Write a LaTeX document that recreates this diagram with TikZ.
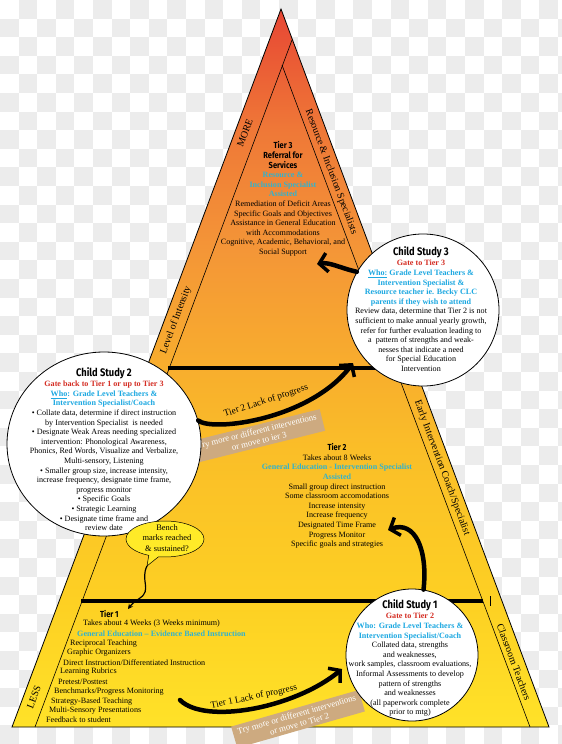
\documentclass[tikz,border=0pt]{standalone}
\usepackage{fontspec}
\setmainfont{Liberation Serif}
\newfontfamily\headfont{Fira Sans}[FakeStretch=0.85]
\usetikzlibrary{shapes.geometric,shapes.callouts,arrows.meta}

\definecolor{checkgray}{RGB}{236,236,236}
\definecolor{pyrbot}{RGB}{255,226,40}
\definecolor{pyrlow}{RGB}{253,208,35}
\definecolor{pyrmid}{RGB}{250,190,40}
\definecolor{pyrband}{RGB}{248,174,45}
\definecolor{pyrup}{RGB}{244,150,55}
\definecolor{pyrhigh}{RGB}{239,120,55}
\definecolor{pyrtop}{RGB}{231,70,52}
\definecolor{tiercyan}{RGB}{50,178,205}
\definecolor{whocyan}{RGB}{28,168,225}
\definecolor{gatered}{RGB}{212,45,35}
\definecolor{tanfill}{RGB}{205,170,128}
\definecolor{benchyellow}{RGB}{255,234,40}

% vertical fade of the pyramid, red at the top to yellow at the base
\pgfdeclareverticalshading{pyramidfade}{100bp}{color(0bp)=(pyrbot); color(25bp)=(pyrbot);
  color(33.8bp)=(pyrlow); color(44.3bp)=(pyrmid); color(49.9bp)=(pyrband);
  color(58.2bp)=(pyrup); color(66.6bp)=(pyrhigh); color(75bp)=(pyrtop); color(100bp)=(pyrtop)}

\newcommand\tierhd{\headfont\bfseries\fontsize{8.8}{9.6}\selectfont}
\newcommand\tiercyanbf{\bfseries\color{tiercyan}}
\newcommand\cscyan{\bfseries\color{whocyan}}
\newcommand\gatefont{\bfseries\color{gatered}}
\newcommand\csttl{\headfont\bfseries\fontsize{11}{12}\selectfont}

\tikzset{
  body/.style={font=\fontsize{8.1}{9.6}\selectfont, align=center, inner sep=0pt},
  bandtext/.style={font=\fontsize{10}{11}\selectfont, inner sep=0pt},
  arrowlabel/.style={font=\fontsize{9.4}{10}\selectfont, inner sep=0pt},
  csbubble/.style={draw=black, line width=0.8pt, fill=white, inner sep=0pt},
  tanbox/.style={fill=tanfill, text=white, font=\fontsize{8.8}{10}\selectfont, align=center, inner xsep=5pt, inner ysep=3pt},
  bigarrow/.style={line width=4.5pt, line cap=round, -{Straight Barb[length=8pt,width=19pt,line width=3.5pt]}},
  tierline/.style={line width=3.5pt}
}

\begin{document}
\begin{tikzpicture}[x=1pt, y=-1pt]
\useasboundingbox (0,0) rectangle (562,744);

% transparent background squares
\foreach \i in {0,...,30}
  \foreach \j in {0,...,39} {
    \ifodd\numexpr\i+\j\relax
      \fill[checkgray] (\i*18.6,\j*18.6) rectangle ++(18.6,18.6);
    \fi
  }

% ==================== pyramid ====================
\coordinate (apex) at (281,9);
\coordinate (bl) at (12,727);
\coordinate (br) at (549,727);
\coordinate (ilt) at (292,40);
\coordinate (ilb) at (35,727);
\coordinate (irt) at (282,65);
\coordinate (irb) at (530,727);

\shadedraw[shading=pyramidfade, line width=0.8pt] (apex) -- (br) -- (bl) -- cycle;
\draw[line width=0.6pt] (ilt) -- (ilb);
\draw[line width=0.6pt] (irt) -- (irb);

% tier borders
\coordinate (tthreel) at (168,368);
\coordinate (tthreer) at (396,368);
\coordinate (ttwol) at (81,601);
\coordinate (ttwor) at (483,601);
\draw[tierline] (tthreel) -- (tthreer);
\draw[tierline] (ttwol) -- (ttwor);
\draw[line width=0.6pt] (tthreer) -- (415,368);
\draw[line width=0.6pt] (490,596) -- (490,606);

% band labels
\node[bandtext, rotate=69.5] (more) at (245,133) {MORE};
\node[bandtext, rotate=69.5] (intensity) at (176,320) {Level of Intensity};
\node[bandtext, rotate=69.5] (less) at (34,697) {LESS};
\node[bandtext, rotate=-69.5] (resource) at (331,172) {Resource \& Inclusion Specialists};
\node[bandtext, rotate=-69.5] (early) at (442,468) {Early Intervention Coach/Specialist};
\node[bandtext, rotate=-69.5] (classroom) at (514,662) {Classroom Teachers};

% ==================== tier texts ====================
\node[body] (tierthree) at (283,199) {{\tierhd Tier 3}\\{\tierhd Referral for}\\{\tierhd Services}\\
  {\tiercyanbf Resource \&}\\{\tiercyanbf Inclusion Specialist}\\{\tiercyanbf Assisted}\\
  Remediation of Deficit Areas\\Specific Goals and Objectives\\Assistance in General Education\\
  with Accommodations\\Cognitive, Academic, Behavioral, and\\Social Support};

\node[body] (tiertwo) at (337,496) {{\tierhd Tier 2}\\Takes about 8 Weeks\\
  {\tiercyanbf General Education - Intervention Specialist}\\{\tiercyanbf Assisted}\\
  Small group direct instruction\\Some classroom accomodations\\Increase intensity\\
  Increase frequency\\Designated Time Frame\\Progress Monitor\\Specific goals and strategies};

\foreach \lx/\ly/\ltext [count=\i] in {
    100/614/{\tierhd Tier 1},
    83/624/{Takes about 4 Weeks (3 Weeks minimum)},
    77/634/{\tiercyanbf General Education -- Evidence Based Instruction},
    70/644/{Reciprocal Teaching},
    67/653/{Graphic Organizers},
    63/663/{Direct Instruction/Differentiated Instruction},
    60/672/{Learning Rubrics},
    58/682/{Pretest/Posttest},
    54/692/{Benchmarks/Progress Monitoring},
    51/702/{Strategy-Based Teaching},
    49/711/{Multi-Sensory Presentations},
    46/720/{Feedback to student}}
  \node[body, anchor=west] (tone-\i) at (\lx,\ly) {\ltext};

% ==================== arrows ====================
\node[tanbox, rotate=14] (ttwotry) at (258,436) {Try more or different interventions\\or move to ier 3};
\node[tanbox, rotate=16] (tonetry) at (298,719) {Try more or different interventions\\or move to Tier 2};
\node[arrowlabel, rotate=18] (ttwolack) at (266,401) {Tier 2 Lack of progress};
\node[arrowlabel, rotate=12] (tonelack) at (254,697) {Tier 1 Lack of progress};

\coordinate (tonestart) at (180,700);
\coordinate (tonetip) at (342,669);
\coordinate (ttwotip) at (353,363);
\coordinate (tthreetip) at (317,264);
\coordinate (ttwoback) at (388,530);
\coordinate (benchtip) at (147,566);
\coordinate (benchend) at (128,609);

\draw[bigarrow] (tonestart) .. controls (205,725) and (295,708) .. (tonetip);

% ==================== child study bubbles ====================
\node[csbubble, ellipse, minimum width=194pt, minimum height=184pt] (cs2) at (104,444) {};
\node[csbubble, circle, minimum size=152pt] (cs3) at (423,310) {};
\node[csbubble, circle, minimum size=132pt] (cs1) at (412,655) {};

\draw[bigarrow] (cs2.14) .. controls (212,432) and (310,420) .. (ttwotip);
\draw[bigarrow] (cs3.150) .. controls (340,268) and (330,262) .. (tthreetip);
\draw[bigarrow] (cs1.80) .. controls (428,550) and (415,520) .. (ttwoback);

\node[body] (cs3text) at (421,309) {{\csttl Child Study 3}\\[1pt]{\gatefont Gate to Tier 3}\\
  {\cscyan \underline{Who:} Grade Level Teachers \&}\\{\cscyan Intervention Specialist \&}\\
  {\cscyan Resource teacher ie. Becky CLC}\\{\cscyan parents if they wish to attend}\\
  Review data, determine that Tier 2 is not\\sufficient to make annual yearly growth,\\
  refer for further evaluation leading to\\a\ \ pattern of strengths and weak-\\
  nesses that indicate a need\\for Special Education\\Intervention};

\node[body] (cs2text) at (104,449) {{\csttl Child Study 2}\\[1pt]{\gatefont Gate back to Tier 1 or up to Tier 3}\\
  {\cscyan \underline{Who}: Grade Level Teachers \&}\\{\cscyan Intervention Specialist/Coach}\\
  \textbullet{} Collate data, determine if direct instruction\\by Intervention Specialist\ \ is needed\\
  \textbullet{} Designate Weak Areas needing specialized\\intervention: Phonological Awareness,\\
  Phonics, Red Words, Visualize and Verbalize,\\Multi-sensory, Listening\\
  \textbullet{} Smaller group size, increase intensity,\\increase frequency, designate time frame,\\
  progress monitor\\\textbullet{} Specific Goals\\\textbullet{} Strategic Learning\\
  \textbullet{} Designate time frame and\\review date};

\node[body] (cs1text) at (410,658) {{\csttl Child Study 1}\\[1pt]{\gatefont Gate to Tier 2}\\
  {\cscyan Who: Grade Level Teachers \&}\\{\cscyan Intervention Specialist/Coach}\\
  Collated data, strengths\\and weaknesses,\\work samples, classroom evaluations,\\
  Informal Assessments to develop\\pattern of strengths\\and weaknesses\\
  (all paperwork complete\\prior to mtg)};

% bench marks question
\node[ellipse callout, draw=black, line width=0.5pt, fill=benchyellow, minimum width=78pt, minimum height=36pt,
  callout absolute pointer={(benchtip)}] (bench) at (165,539) {};
\node[font=\fontsize{8.4}{10.4}\selectfont, align=center, inner sep=0pt] (benchtext) at (167,538) {Bench\\marks reached\\\& sustained?};
\draw[line width=1.2pt, -{Stealth[length=5pt,width=5pt]}] (benchtip) .. controls (140,580) and (152,590) .. (140,598)
  .. controls (134,602) and (131,605) .. (benchend);
\end{tikzpicture}
\end{document}
